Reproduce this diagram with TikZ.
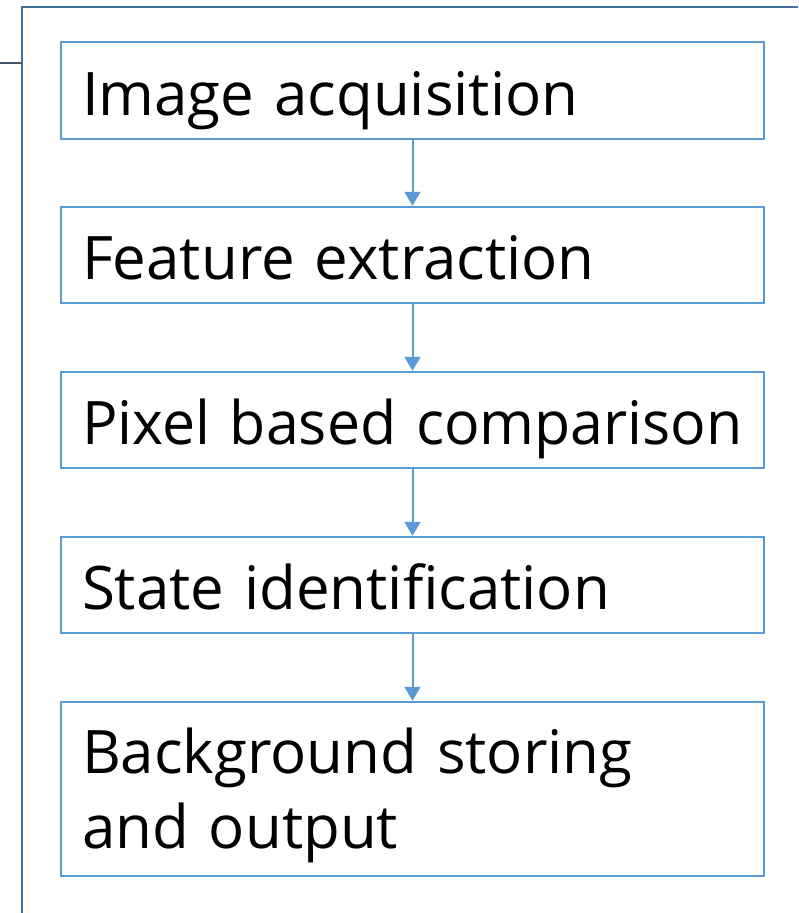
\documentclass[tikz,border=0pt]{standalone}
\usepackage{fontspec}
\setmainfont{Open Sans}
\usetikzlibrary{arrows.meta}
\definecolor{boxblue}{HTML}{5B9BD5}
\definecolor{frameblue}{HTML}{41719C}
\definecolor{stubblue}{HTML}{44546A}
\begin{document}
\begin{tikzpicture}[x=1pt,y=-1pt,
  stepbox/.style={draw=boxblue, line width=2.5pt, rectangle, minimum width=703pt,
    inner xsep=21pt, inner ysep=0pt, text width=661pt, align=left,
    text height=60pt, text depth=11pt,
    font=\fontsize{60}{75}\selectfont},
  flow/.style={draw=boxblue, line width=2pt, -{Triangle[width=16pt,length=14pt]}},
  frame/.style={draw=frameblue, line width=2.5pt}]
\useasboundingbox (0,0) rectangle (798,913);
\coordinate (ftop) at (22,7);
\coordinate (fbot) at (22,913);
\coordinate (fright) at (798,7);
\coordinate (stubL) at (0,63);
\coordinate (stubR) at (22,63);
\draw[frame] (fbot) -- (ftop) -- (fright);
\draw[draw=stubblue, line width=2pt] (stubL) -- (stubR);
\node[stepbox, minimum height=97pt] (s1) at (412.5,90.5) {Image acquisition};
\node[stepbox, minimum height=96pt] (s2) at (412.5,255) {Feature extraction};
\node[stepbox, minimum height=96pt] (s3) at (412.5,420) {\scalebox{0.984}[1]{Pixel based comparison}};
\node[stepbox, minimum height=96pt] (s4) at (412.5,585) {State identification};
\node[stepbox, minimum height=174pt, text depth=92pt] (s5) at (412.5,789) {Background storing\\and output};
\draw[flow] (s1.south) -- (s2.north);
\draw[flow] (s2.south) -- (s3.north);
\draw[flow] (s3.south) -- (s4.north);
\draw[flow] (s4.south) -- (s5.north);
\end{tikzpicture}
\end{document}
